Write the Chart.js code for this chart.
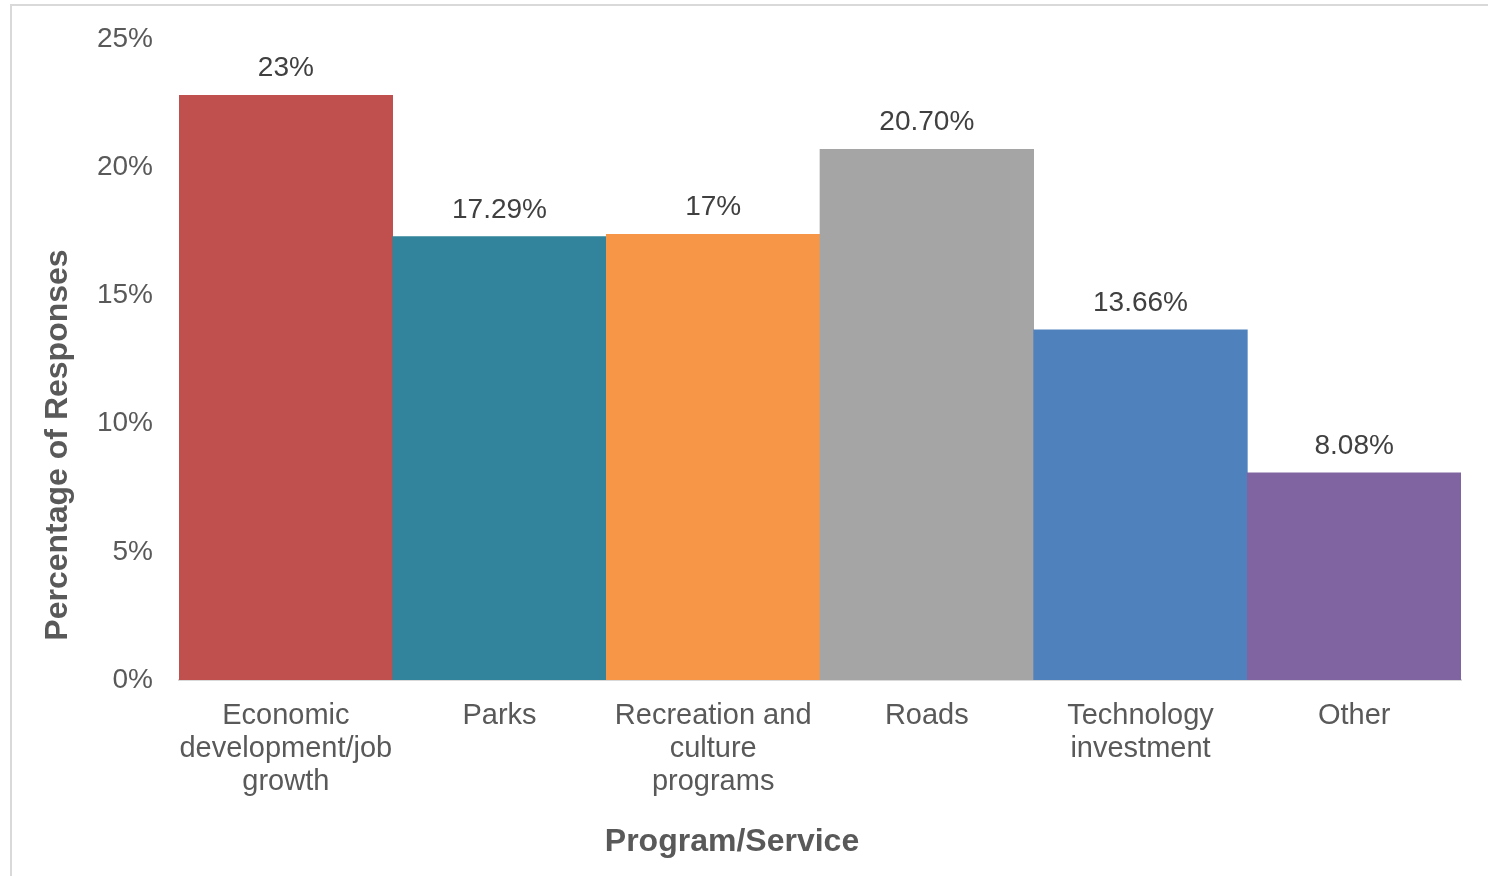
<!DOCTYPE html>
<html>
<head>
<meta charset="utf-8">
<script src="https://cdn.jsdelivr.net/npm/chart.js@4/dist/chart.umd.min.js"></script>
<style>
  html, body { margin: 0; padding: 0; background: #fff; overflow: hidden; }
  #wrap { position: relative; width: 1488px; height: 876px; }
  #frame { position: absolute; left: 10px; top: 4px; right: -20px; bottom: -20px;
           border: 2px solid #d9d9d9; pointer-events: none; }
  canvas { position: absolute; left: 0; top: 0; }
</style>
</head>
<body>
<div id="wrap">
  <canvas id="chart" width="1488" height="876"></canvas>
  <div id="frame"></div>
</div>
<script>
// Program/Service categories (multi-line labels as in the original)
const categories = [
  ['Economic', 'development/job', 'growth'],
  ['Parks'],
  ['Recreation and', 'culture', 'programs'],
  ['Roads'],
  ['Technology', 'investment'],
  ['Other'],
];
// bar heights (percent)
const values = [22.8, 17.29, 17.38, 20.70, 13.66, 8.08];
// labels as printed above the bars
const valueLabels = ['23%', '17.29%', '17%', '20.70%', '13.66%', '8.08%'];
const barColors = ['#c0504d', '#31849b', '#f79646', '#a5a5a5', '#4f81bd', '#8064a2'];
const yTicks = [0, 5, 10, 15, 20, 25];
const xTitle = 'Program/Service';
const yTitle = 'Percentage of Responses';

const FONT = "'Liberation Sans', Arial, sans-serif";

// value labels on top of the bars, plus the two axis titles
// (the originals sit off-centre, so they are drawn here)
const annotations = {
  id: 'annotations',
  afterDatasetsDraw(chart) {
    const ctx = chart.ctx;
    const meta = chart.getDatasetMeta(0);
    ctx.save();
    ctx.font = '28px ' + FONT;
    ctx.fillStyle = '#404040';
    ctx.textAlign = 'center';
    ctx.textBaseline = 'alphabetic';
    meta.data.forEach((bar, i) => {
      ctx.fillText(valueLabels[i], bar.x, bar.y - 19);
    });

    ctx.font = 'bold 32px ' + FONT;
    ctx.fillStyle = '#595959';
    ctx.textBaseline = 'middle';
    ctx.fillText(xTitle, 732, 842);

    ctx.translate(58, 445);
    ctx.rotate(-Math.PI / 2);
    ctx.fillText(yTitle, 0, 0);
    ctx.restore();
  },
};

new Chart(document.getElementById('chart').getContext('2d'), {
  type: 'bar',
  data: {
    labels: categories,
    datasets: [{
      data: values,
      backgroundColor: barColors,
      borderWidth: 0,
      barPercentage: 1,
      categoryPercentage: 1,
    }],
  },
  options: {
    responsive: false,
    animation: false,
    layout: { padding: { left: 40, top: 39, right: 27, bottom: 0 } },
    plugins: {
      legend: { display: false },
      tooltip: { enabled: false },
    },
    scales: {
      x: {
        grid: { display: false },
        border: { display: true, color: '#d9d9d9', width: 2 },
        ticks: {
          color: '#595959',
          font: { family: FONT, size: 29, lineHeight: 1.14 },
          padding: 11,
          maxRotation: 0,
          autoSkip: false,
        },
        afterFit(s) { s.height = 196; },
      },
      y: {
        min: 0,
        max: 25,
        grid: { display: false },
        border: { display: false },
        afterBuildTicks(s) { s.ticks = yTicks.map(v => ({ value: v })); },
        ticks: {
          color: '#595959',
          font: { family: FONT, size: 28 },
          padding: 18,
          callback: v => v + '%',
        },
        afterFit(s) { s.width = 139; },
      },
    },
  },
  plugins: [annotations],
});
</script>
</body>
</html>
